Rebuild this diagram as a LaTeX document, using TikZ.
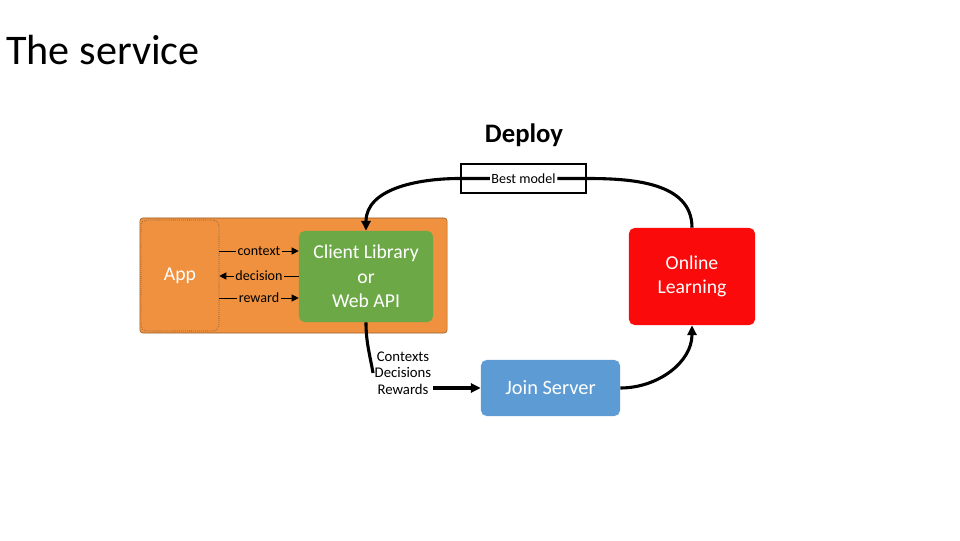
\documentclass[tikz,border=0pt]{standalone}
\usepackage{fontspec}
\setmainfont{Carlito}
\usetikzlibrary{arrows.meta,positioning}
\definecolor{appor}{RGB}{239,145,62}
\definecolor{appedge}{RGB}{150,95,45}
\definecolor{libgreen}{RGB}{108,169,70}
\definecolor{joinblue}{RGB}{92,155,212}
\definecolor{learnred}{RGB}{250,10,10}

\begin{document}
\begin{tikzpicture}[x=0.025cm,y=0.025cm,
  box/.style={rounded corners=4pt,text=white,align=center,inner sep=0pt,
    font=\fontsize{14}{17}\selectfont},
  flow/.style={-{Triangle[length=7pt,width=6.5pt]},line width=2.2pt},
  wire/.style={-{Triangle[length=5pt,width=5pt]},line width=0.6pt},
  lbl/.style={font=\fontsize{10}{12}\selectfont,inner sep=1pt,fill=appor}]
\useasboundingbox (0,0) rectangle (960,540);

\node[anchor=west,inner sep=0pt,font=\fontsize{30}{34}\selectfont] (title) at (6,490) {The service};

% app side
\node[draw=appedge,fill=appor,rounded corners=2pt,minimum width=7.675cm,minimum height=2.875cm] (back) at (293.5,264.5) {};
\node[box,draw=black!70,densely dotted,fill=appor,minimum width=1.95cm,minimum height=2.775cm] (app) at (180,264.5) {App};
\node[box,fill=libgreen,minimum width=3.35cm,minimum height=2.275cm,font=\fontsize{14}{17.5}\selectfont] (client) at (366,263.5) {Client Library\\or\\Web API};

\coordinate (ctx) at (259,289);
\coordinate (dec) at (259,264);
\coordinate (rew) at (259,242);
\draw[wire] (app.east |- ctx) -- (client.west |- ctx);
\draw[wire] (client.west |- dec) -- (app.east |- dec);
\draw[wire] (app.east |- rew) -- (client.west |- rew);
\node[lbl] at (ctx) {context};
\node[lbl] at (dec) {decision};
\node[lbl] at (rew) {reward};

% service side
\node[font=\bfseries\fontsize{19}{22}\selectfont] (deploy) at (524,405) {Deploy};
\node[draw,line width=1.8pt,minimum width=3.125cm,minimum height=0.725cm] (best) at (523.5,361.5) {};
\node[font=\fontsize{10}{12}\selectfont,inner sep=1pt] (bestlbl) at (best.center) {Best model};
\node[box,fill=learnred,minimum width=3.15cm,minimum height=2.425cm,font=\fontsize{14}{17.5}\selectfont] (online) at (692,263.5) {Online\\Learning};
\node[box,fill=joinblue,minimum width=3.475cm,minimum height=1.4cm,font=\fontsize{14.5}{17}\selectfont] (join) at (550.5,152) {Join Server};
\node[align=center,inner sep=1pt,font=\fontsize{10.5}{11.8}\selectfont] (cdr) at (403,167) {Contexts\\Decisions\\Rewards};

\draw[line width=2.2pt] (online.north) to[out=90,in=0] (best.east) -- (bestlbl.east);
\draw[flow] (bestlbl.west) -- (best.west) to[out=180,in=90] (client.north);
\draw[line width=2.2pt] (client.south) to[out=-90,in=100] (cdr.west);
\draw[flow] (join.west -| cdr.east) -- (join.west);
\draw[flow] (join.east) to[out=0,in=-90] (online.south);
\end{tikzpicture}
\end{document}
